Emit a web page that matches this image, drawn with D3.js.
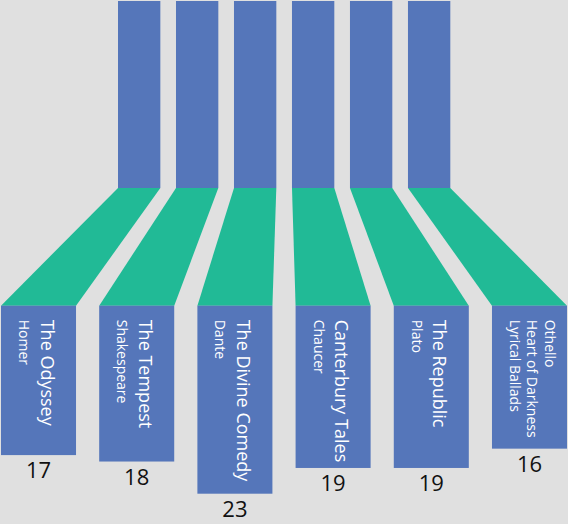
<!DOCTYPE html>
<html>
<head>
<meta charset="utf-8">
<script src="https://cdn.jsdelivr.net/npm/d3@7"></script>
<style>
  html, body { margin: 0; padding: 0; background: #e0e0e0; }
  svg { display: block; }
</style>
</head>
<body>
<svg id="chart" width="568" height="524"></svg>
<script>
// ---- data ----
const categories = ["The Odyssey", "The Tempest", "The Divine Comedy", "Canterbury Tales", "The Republic", "Others"];
const titles = [
  ["The Odyssey"],
  ["The Tempest"],
  ["The Divine Comedy"],
  ["Canterbury Tales"],
  ["The Republic"],
  ["Othello", "Heart of Darkness", "Lyrical Ballads"]
];
const authors = ["Homer", "Shakespeare", "Dante", "Chaucer", "Plato", ""];
const values = [17, 18, 23, 19, 19, 16];

// ---- layout ----
const W = 568, H = 524;
const blue = "#5576ba", green = "#21ba96";
const topY0 = 1, topY1 = 188, botY0 = 305.7;

const svg = d3.select("#chart");
svg.append("rect").attr("width", W).attr("height", H).attr("fill", "#e0e0e0");

const xTop = d3.scaleBand().domain(categories).range([118, 450.3]).paddingInner(0.27).paddingOuter(0);
const xBot = d3.scaleBand().domain(categories).range([1, 567]).paddingInner(0.236).paddingOuter(0);
const hScale = d3.scaleLinear().domain([0, 23]).range([40, 188]);

const data = categories.map((c, i) => ({
  key: c, value: values[i], titles: titles[i], author: authors[i]
}));

// top bars
svg.append("g").selectAll("rect").data(data).join("rect")
  .attr("x", d => xTop(d.key))
  .attr("y", topY0)
  .attr("width", xTop.bandwidth())
  .attr("height", topY1 - topY0)
  .attr("fill", blue);

// connectors
const line = d3.line();
svg.append("g").selectAll("path").data(data).join("path")
  .attr("d", d => line([
    [xTop(d.key), topY1],
    [xTop(d.key) + xTop.bandwidth(), topY1],
    [xBot(d.key) + xBot.bandwidth(), botY0],
    [xBot(d.key), botY0]
  ]) + "Z")
  .attr("fill", green);

// bottom bars
svg.append("g").selectAll("rect").data(data).join("rect")
  .attr("x", d => xBot(d.key))
  .attr("y", botY0)
  .attr("width", xBot.bandwidth())
  .attr("height", d => hScale(d.value))
  .attr("fill", blue);

// rotated labels
data.forEach(d => {
  let lines;
  if (d.titles.length === 1) {
    lines = [{ t: d.titles[0], s: 18 }, { t: d.author, s: 14 }];
  } else {
    lines = d.titles.map(t => ({ t, s: 14 }));
  }
  // last line closest to bar left edge
  let off = 18;
  const pos = [];
  for (let k = lines.length - 1; k >= 0; k--) {
    pos[k] = off;
    if (k > 0) off += lines[k - 1].s + 3.5;
  }
  lines.forEach((ln, k) => {
    svg.append("text")
      .attr("transform", `translate(${xBot(d.key) + pos[k]},${botY0 + 14}) rotate(90)`)
      .attr("font-family", "'Open Sans', sans-serif")
      .attr("font-size", ln.s)
      .attr("fill", "#ffffff")
      .text(ln.t);
  });
});

// value labels
svg.append("g").selectAll("text").data(data).join("text")
  .attr("x", d => xBot(d.key) + xBot.bandwidth() / 2)
  .attr("y", d => botY0 + hScale(d.value) + 23)
  .attr("text-anchor", "middle")
  .attr("font-family", "'Open Sans', sans-serif")
  .attr("font-size", 22)
  .attr("fill", "#111")
  .text(d => d.value);
</script>
</body>
</html>
